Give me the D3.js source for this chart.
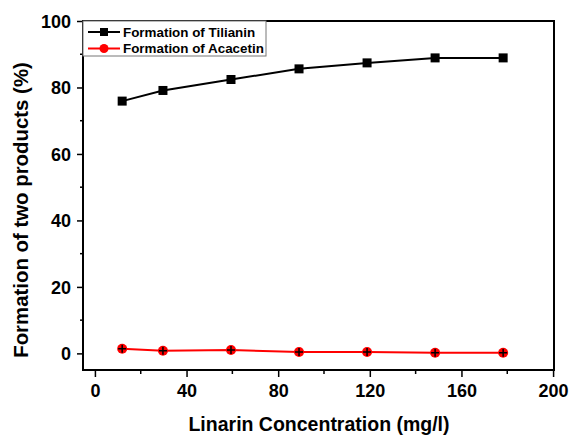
<!DOCTYPE html>
<html>
<head>
<meta charset="utf-8">
<script src="https://d3js.org/d3.v7.min.js"></script>
<style>
  body { margin:0; background:#fff; }
  svg { display:block; font-family: Arial, "Liberation Sans", sans-serif; }
  .tick text { font-size:18px; font-weight:bold; }
  .axis-title { font-weight:bold; }
  .legend text { font-size:13.4px; font-weight:bold; }
</style>
</head>
<body>
<script>
// data
var concentration = [11.9, 29.7, 59.4, 89.1, 118.8, 148.5, 178.2];
var tilianin = [75.9, 79.1, 82.4, 85.6, 87.4, 88.9, 88.9];
var acacetin = [1.4, 0.8, 1.0, 0.4, 0.4, 0.2, 0.2];
var xTicks = [0, 40, 80, 120, 160, 200];
var yTicks = [0, 20, 40, 60, 80, 100];
var seriesNames = ["Formation of Tilianin", "Formation of Acacetin"];

var W = 571, H = 435;
var pL = 83, pT = 21, pR = 554, pB = 370;

var svg = d3.select("body").append("svg")
    .attr("width", W).attr("height", H);

var x = d3.scaleLinear().domain([-5.2, 200.4]).range([pL, pR]);
var y = d3.scaleLinear().domain([-5, 100]).range([pB, pT]);

// minor ticks
var xMinor = d3.range(20, 200, 40);
var yMinor = d3.range(10, 100, 20);

var gx = svg.append("g").attr("transform", "translate(0," + pB + ")");
gx.call(d3.axisBottom(x).tickValues(xTicks).tickSize(7).tickPadding(7).tickFormat(d3.format("d")));
gx.select(".domain").remove();
gx.selectAll(".tick line").attr("stroke-width", 1.5);
gx.selectAll(".minor").data(xMinor).enter().append("line")
  .attr("x1", function(d){ return x(d); }).attr("x2", function(d){ return x(d); })
  .attr("y1", 0).attr("y2", 4).attr("stroke", "#000").attr("stroke-width", 1.5);

var gy = svg.append("g").attr("transform", "translate(" + pL + ",0)");
gy.call(d3.axisLeft(y).tickValues(yTicks).tickSize(6).tickPadding(6).tickFormat(d3.format("d")));
gy.select(".domain").remove();
gy.selectAll(".tick line").attr("stroke-width", 1.5);
gy.selectAll(".tick text").attr("dy", "0.36em");
gy.selectAll(".minor").data(yMinor).enter().append("line")
  .attr("y1", function(d){ return y(d); }).attr("y2", function(d){ return y(d); })
  .attr("x1", 0).attr("x2", -3).attr("stroke", "#000").attr("stroke-width", 1.5);

// frame
svg.append("rect")
  .attr("x", pL).attr("y", pT)
  .attr("width", pR - pL).attr("height", pB - pT)
  .attr("fill", "none").attr("stroke", "#000").attr("stroke-width", 2);

// lines
var line = function(vals) {
  return d3.line()
    .x(function(d, i){ return x(concentration[i]); })
    .y(function(d){ return y(d); })(vals);
};

svg.append("path").attr("d", line(tilianin))
  .attr("fill", "none").attr("stroke", "#000").attr("stroke-width", 2);
svg.selectAll(".sq").data(tilianin).enter().append("rect")
  .attr("x", function(d, i){ return x(concentration[i]) - 4.5; })
  .attr("y", function(d){ return y(d) - 4.5; })
  .attr("width", 9).attr("height", 9).attr("fill", "#000");

svg.append("path").attr("d", line(acacetin))
  .attr("fill", "none").attr("stroke", "#ff0000").attr("stroke-width", 2);
var pts = svg.selectAll(".pt").data(acacetin).enter().append("g")
  .attr("transform", function(d, i){ return "translate(" + x(concentration[i]) + "," + y(d) + ")"; });
pts.append("circle").attr("r", 5).attr("fill", "#ff0000");
pts.append("path").attr("d", "M-4,0H4M0,-4V4").attr("stroke", "#000").attr("stroke-width", 1.5);

// legend
var lg = svg.append("g").attr("class", "legend");
lg.append("rect").attr("x", pL).attr("y", pT).attr("width", 183).attr("height", 35)
  .attr("fill", "#fff").attr("stroke", "#777").attr("stroke-width", 1);
seriesNames.forEach(function(name, i) {
  var yy = pT + 11 + i * 16.5;
  var col = i === 0 ? "#000" : "#ff0000";
  lg.append("line").attr("x1", 88).attr("x2", 120).attr("y1", yy).attr("y2", yy)
    .attr("stroke", col).attr("stroke-width", 2);
  if (i === 0) {
    lg.append("rect").attr("x", 100).attr("y", yy - 4).attr("width", 8).attr("height", 8).attr("fill", col);
  } else {
    lg.append("circle").attr("cx", 104).attr("cy", yy).attr("r", 4.5).attr("fill", col);
  }
  lg.append("text").attr("x", 123).attr("y", yy + 4.8).text(name);
});

// axis titles
svg.append("text").attr("class", "axis-title")
  .attr("x", 319).attr("y", 431)
  .attr("text-anchor", "middle").style("font-size", "19.5px")
  .text("Linarin Concentration (mg/l)");
svg.append("text").attr("class", "axis-title")
  .attr("transform", "translate(28,210) rotate(-90)")
  .attr("text-anchor", "middle").style("font-size", "20.4px")
  .text("Formation of two products (%)");
</script>
</body>
</html>
